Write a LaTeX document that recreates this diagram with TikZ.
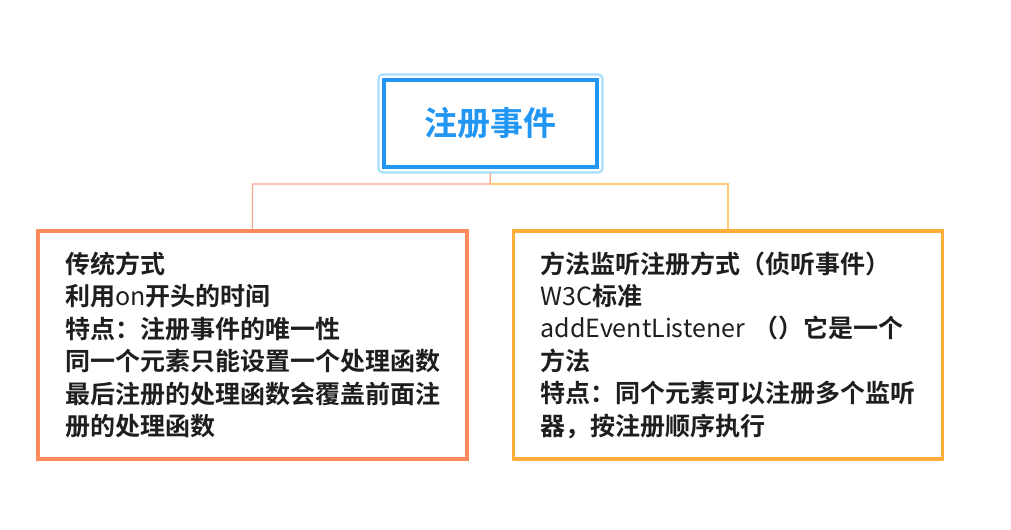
\documentclass[tikz,border=0pt]{standalone}
\usepackage{fontspec}
\setmainfont{Noto Sans CJK SC}[BoldFont={Noto Sans CJK SC Bold}]
\usetikzlibrary{calc}
\definecolor{tblue}{HTML}{2196F3}
\definecolor{tglow}{HTML}{A6DEFF}
\definecolor{lbox}{HTML}{FF8A5C}
\definecolor{rbox}{HTML}{FFAD3A}
\definecolor{llink}{HTML}{F9A88C}
\definecolor{rlink}{HTML}{FFC977}
\definecolor{txt}{HTML}{1E1E1E}
\newcommand{\lat}[1]{{\mdseries #1}}
\tikzset{
  topbox/.style={draw=tblue, line width=3pt, minimum width=159.75pt, minimum height=65.25pt,
    inner sep=0pt, text=tblue, font=\bfseries\fontsize{24.75}{28}\selectfont},
  glow/.style={draw=tglow, line width=1.6pt, rounded corners=3pt},
  itembox/.style={line width=2.6pt, minimum width=321.75pt, minimum height=171pt,
    inner xsep=20pt, inner ysep=0pt, text width=281.25pt, align=left, text=txt,
    font=\bfseries\fontsize{18.75}{24.3}\selectfont},
  linkL/.style={draw=llink, line width=1.1pt},
  linkR/.style={draw=rlink, line width=1.1pt},
}
\begin{document}
\begin{tikzpicture}[x=0.75pt,y=-0.75pt]
\useasboundingbox (0,0) rectangle (1011,529);
\node[topbox] (top) at (490.5,123.5) {注册事件};
\draw[glow] ($(top.north west)+(-3.5,-3.5)$) rectangle ($(top.south east)+(3.5,3.5)$);
\node[itembox, draw=lbox] (left) at (252.5,345) {传统方式\\利用\lat{on}开头的时间\\特点：注册事件的唯一性\\同一个元素只能设置一个处理函数\\最后注册的处理函数会覆盖前面注\\册的处理函数};
\node[itembox, draw=rbox] (right) at (728,345) {方法监听注册方式（侦听事件）\\\lat{W3C}标准\\\mbox{\lat{addEventListener} （）它是一个}\\方法\\特点：同个元素可以注册多个监听\\器，按注册顺序执行};
\coordinate (j) at (490,184);
\draw[linkL] ($(top.south)+(0,4)$) -- (j) -| (left.north);
\draw[linkR] (j) -| (right.north);
\end{tikzpicture}
\end{document}
